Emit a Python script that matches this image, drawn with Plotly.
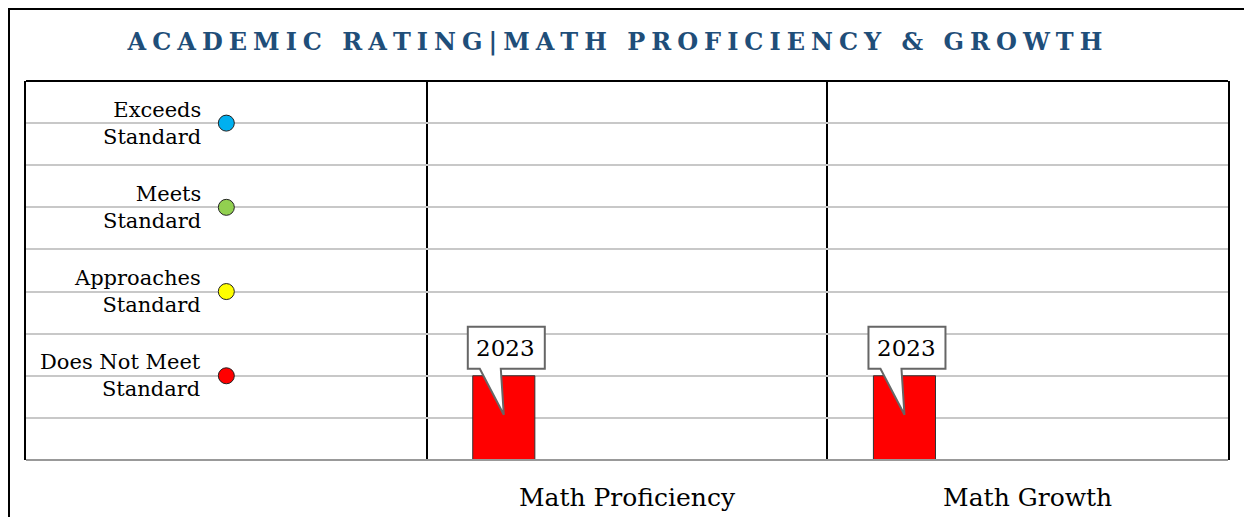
import plotly.graph_objects as go

# ---------------- data ----------------
categories = ["Rating Scale", "Math Proficiency", "Math Growth"]
tick_labels = ["", "Math Proficiency", "Math Growth"]

level_names = ["Exceeds<br>Standard", "Meets<br>Standard",
               "Approaches<br>Standard", "Does Not Meet<br>Standard"]
level_values = [8, 6, 4, 2]
level_colors = ["#00B0F0", "#92D050", "#FFFF00", "#FF0000"]

bar_categories = ["Math Proficiency", "Math Growth"]
bar_values = [2, 2]
bar_years = ["2023", "2023"]
bar_colors = ["#FF0000", "#FF0000"]

title_text = "ACADEMIC RATING|MATH PROFICIENCY & GROWTH"

# ---------------- layout constants ----------------
BODY = 8  # default page margin of the browser
W, H = 1252 - BODY, 517 - BODY
M = dict(l=26 - BODY, r=24, t=81 - BODY, b=57)
plot_w = W - M["l"] - M["r"]
plot_h = H - M["t"] - M["b"]
Y_MAX = 9
BAR_OFFSET = -0.385
BAR_WIDTH = 0.155
px_per_cat = plot_w / len(categories)
bar_center_px = (BAR_OFFSET + BAR_WIDTH / 2) * px_per_cat

SERIF = "DejaVu Serif"
TITLE_COLOR = "#1F4E79"


def spaced(s, sp="\u2005"):
    return sp.join(list(s))


fig = go.Figure()

fig.add_trace(go.Bar(
    x=bar_categories, y=bar_values,
    width=BAR_WIDTH, offset=BAR_OFFSET,
    marker=dict(color=bar_colors, line=dict(color="#333333", width=1)),
    hoverinfo="skip", showlegend=False,
))

fig.add_trace(go.Scatter(
    x=[categories[0]] * len(level_values), y=level_values,
    mode="markers",
    marker=dict(size=16, color=level_colors, line=dict(color="#222222", width=1)),
    hoverinfo="skip", showlegend=False, cliponaxis=False,
))

annotations = []
for name, val in zip(level_names, level_values):
    annotations.append(dict(
        x=categories[0], y=val, xref="x", yref="y",
        text=name, showarrow=False, xanchor="right", yanchor="middle",
        align="right", xshift=-23,
        font=dict(family=SERIF, size=21, color="#000000"),
    ))

shapes = []
# callouts
for cat, val, yr in zip(bar_categories, bar_values, bar_years):
    c = bar_center_px
    pts = [(-36, 7), (-24, 7), (0, -39), (-3, 7), (41, 7), (41, 49), (-36, 49)]
    path = "M " + " L ".join(f"{c + px:.1f},{py}" for px, py in pts) + " Z"
    shapes.append(dict(
        type="path", xref="x", yref="y", xsizemode="pixel", ysizemode="pixel",
        xanchor=cat, yanchor=val, path=path,
        fillcolor="#FFFFFF", line=dict(color="#666666", width=2), layer="above",
    ))
    annotations.append(dict(
        x=cat, y=val, xref="x", yref="y", text=yr, showarrow=False,
        xanchor="center", yanchor="middle", xshift=c + 2, yshift=28,
        font=dict(family=SERIF, size=23, color="#000000"),
    ))

# plot frame: top black, bottom gray
shapes.append(dict(type="line", xref="paper", yref="paper", x0=0, x1=1, y0=1, y1=1,
                   line=dict(color="#000000", width=2), layer="above"))
shapes.append(dict(type="line", xref="paper", yref="paper", x0=0, x1=1, y0=0, y1=0,
                   line=dict(color="#999999", width=2), layer="above"))
# outer page border (as close to the page edge as the figure allows)
shapes.append(dict(
    type="rect", xref="paper", yref="paper",
    x0=(1 - M["l"]) / plot_w, x1=(W + 10 - M["l"]) / plot_w,
    y0=-(H + 10 - M["t"] - plot_h) / plot_h, y1=(M["t"] + plot_h - 1) / plot_h,
    line=dict(color="#000000", width=2), fillcolor="rgba(0,0,0,0)", layer="above",
))

fig.update_layout(
    width=W, height=H, margin=M,
    paper_bgcolor="#FFFFFF", plot_bgcolor="#FFFFFF",
    showlegend=False,
    title=dict(
        text=spaced(title_text), x=(615 - BODY) / W, xanchor="center", xref="container",
        y=1 - (42 - BODY) / H, yanchor="middle", yref="container",
        font=dict(family=SERIF, size=24, color=TITLE_COLOR, weight="bold"),
    ),
    xaxis=dict(
        type="category", categoryorder="array", categoryarray=categories,
        range=[-0.5, len(categories) - 0.5],
        tickmode="array", tickvals=categories, ticktext=tick_labels,
        tickson="boundaries", showgrid=True, gridcolor="#000000", gridwidth=2,
        ticks="", showline=False, zeroline=False, automargin=False,
        tickfont=dict(family=SERIF, size=25, color="#000000"),
        ticklabelstandoff=20,
    ),
    yaxis=dict(
        range=[0, Y_MAX], tick0=0, dtick=1, showticklabels=False,
        showgrid=True, gridcolor="#C8C8C8", gridwidth=2,
        showline=True, mirror=True, linecolor="#000000", linewidth=2,
        zeroline=False, ticks="", automargin=False,
    ),
    annotations=annotations, shapes=shapes,
)

fig.write_html("out.html")
